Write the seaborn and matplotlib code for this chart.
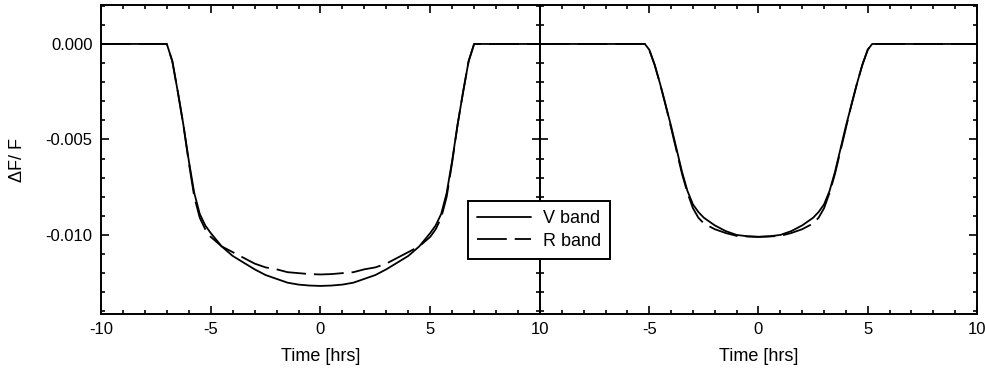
import numpy as np
import pandas as pd
import matplotlib
matplotlib.use("Agg")
import matplotlib.pyplot as plt
from matplotlib.lines import Line2D
from matplotlib.ticker import MultipleLocator
import seaborn as sns

# Transit light curves, relative flux change vs. time from mid-transit
time_a = [-10.0, -7.0, -6.75, -6.5, -6.25, -6.0, -5.75, -5.5, -5.25, -5.0,
          -4.5, -4.0, -3.5, -3.0, -2.5, -2.0, -1.5, -1.0, -0.5, 0.0,
          0.5, 1.0, 1.5, 2.0, 2.5, 3.0, 3.5, 4.0, 4.5,
          5.0, 5.25, 5.5, 5.75, 6.0, 6.25, 6.5, 6.75, 7.0, 10.0]
v_band_a = [0.0, 0.0, -0.0009, -0.0025, -0.0042, -0.0061, -0.0078, -0.0089, -0.0095, -0.0099,
            -0.0106, -0.0111, -0.01145, -0.0118, -0.0121, -0.0123, -0.0125, -0.0126, -0.01265, -0.01267,
            -0.01265, -0.0126, -0.0125, -0.0123, -0.0121, -0.0118, -0.01145, -0.0111, -0.0106,
            -0.0099, -0.0095, -0.0089, -0.0078, -0.0061, -0.0042, -0.0025, -0.0009, 0.0, 0.0]
r_band_a = [0.0, 0.0, -0.0009, -0.0025, -0.0042, -0.0062, -0.0080, -0.0091, -0.0097, -0.0101,
            -0.0106, -0.0109, -0.0112, -0.0115, -0.0117, -0.0118, -0.01195, -0.0120, -0.01205, -0.01207,
            -0.01205, -0.0120, -0.01195, -0.0118, -0.0117, -0.0115, -0.0112, -0.0109, -0.0106,
            -0.0101, -0.0097, -0.0091, -0.0080, -0.0062, -0.0042, -0.0025, -0.0009, 0.0, 0.0]

time_b = [-10.0, -5.2, -5.0, -4.75, -4.5, -4.25, -4.0, -3.75, -3.5, -3.25, -3.0,
          -2.75, -2.5, -2.0, -1.5, -1.0, -0.5, 0.0,
          0.5, 1.0, 1.5, 2.0, 2.5, 2.75,
          3.0, 3.25, 3.5, 3.75, 4.0, 4.25, 4.5, 4.75, 5.0, 5.2, 10.0]
v_band_b = [0.0, 0.0, -0.0003, -0.0011, -0.0021, -0.0032, -0.0043, -0.0055, -0.0067, -0.0077, -0.0084,
            -0.0088, -0.0091, -0.0095, -0.0098, -0.0100, -0.01007, -0.0101,
            -0.01007, -0.0100, -0.0098, -0.0095, -0.0091, -0.0088,
            -0.0084, -0.0077, -0.0067, -0.0055, -0.0043, -0.0032, -0.0021, -0.0011, -0.0003, 0.0, 0.0]
r_band_b = [0.0, 0.0, -0.0003, -0.0011, -0.0021, -0.0032, -0.0044, -0.0056, -0.0068, -0.0078, -0.0086,
            -0.0091, -0.0094, -0.0097, -0.0099, -0.01005, -0.01008, -0.0101,
            -0.01008, -0.01005, -0.0099, -0.0097, -0.0094, -0.0091,
            -0.0086, -0.0078, -0.0068, -0.0056, -0.0044, -0.0032, -0.0021, -0.0011, -0.0003, 0.0, 0.0]

band_labels = ["V band", "R band"]
x_ticks = [-10, -5, 0, 5, 10]
x_tick_labels_left = ["-10", "-5", "0", "5", "10"]
x_tick_labels_right = ["", "-5", "0", "5", "10"]
y_ticks = [0.0, -0.005, -0.010]
y_tick_labels = ["0.000", "-0.005", "-0.010"]

sns.set_theme(style="ticks")
plt.rcParams["font.family"] = ["Liberation Sans", "DejaVu Sans"]
plt.rcParams["axes.linewidth"] = 1.4
for key in ("text.color", "axes.labelcolor", "xtick.color", "ytick.color", "axes.edgecolor"):
    plt.rcParams[key] = "black"

LW = 1.3
LONG_DASH = (16.5, 4.4)
line_dashes = {"V band": "", "R band": LONG_DASH}

fig = plt.figure(figsize=(9.85, 3.79), dpi=100)
ax_l = fig.add_axes([0.1025, 0.1715, 0.4457, 0.8153])
ax_r = fig.add_axes([0.5482, 0.1715, 0.4437, 0.8153])


def long_frame(t, v, r):
    return pd.DataFrame({
        "time": list(t) + list(t),
        "flux": list(v) + list(r),
        "band": [band_labels[0]] * len(t) + [band_labels[1]] * len(t),
    })


for ax, df, xt_labels in ((ax_l, long_frame(time_a, v_band_a, r_band_a), x_tick_labels_left),
                          (ax_r, long_frame(time_b, v_band_b, r_band_b), x_tick_labels_right)):
    sns.lineplot(data=df, x="time", y="flux", style="band", dashes=line_dashes,
                 color="black", linewidth=LW, estimator=None, sort=False,
                 legend=False, ax=ax)
    ax.set_xlim(-10, 10)
    ax.set_ylim(-0.01414, 0.00204)
    ax.set_xticks(x_ticks)
    ax.set_xticklabels(xt_labels)
    ax.xaxis.set_minor_locator(MultipleLocator(1))
    ax.set_yticks(y_ticks)
    ax.yaxis.set_minor_locator(MultipleLocator(0.001))
    ax.tick_params(which="both", direction="in", top=True, right=True,
                   width=1.2, colors="black", labelsize=12, pad=6)
    ax.tick_params(which="major", length=6)
    ax.tick_params(which="minor", length=3)
    ax.set_xlabel("Time [hrs]", fontsize=13, labelpad=8)

ax_l.set_yticklabels(y_tick_labels)
ax_l.set_ylabel("ΔF/ F", fontsize=13, labelpad=14)
ax_r.set_yticklabels([])
ax_r.set_ylabel("")

handles = [Line2D([], [], color="black", lw=LW),
           Line2D([], [], color="black", lw=LW, dashes=LONG_DASH)]
leg = fig.legend(handles, band_labels, loc="center", bbox_to_anchor=(539 / 985, 1 - 230 / 379),
                 frameon=True, fancybox=False, fontsize=13, handlelength=3.0,
                 borderpad=0.5, labelspacing=0.3, handletextpad=0.7, borderaxespad=0)
leg.get_frame().set_edgecolor("black")
leg.get_frame().set_linewidth(1.4)
leg.get_frame().set_alpha(1)

fig.savefig("out.png", dpi=100)
